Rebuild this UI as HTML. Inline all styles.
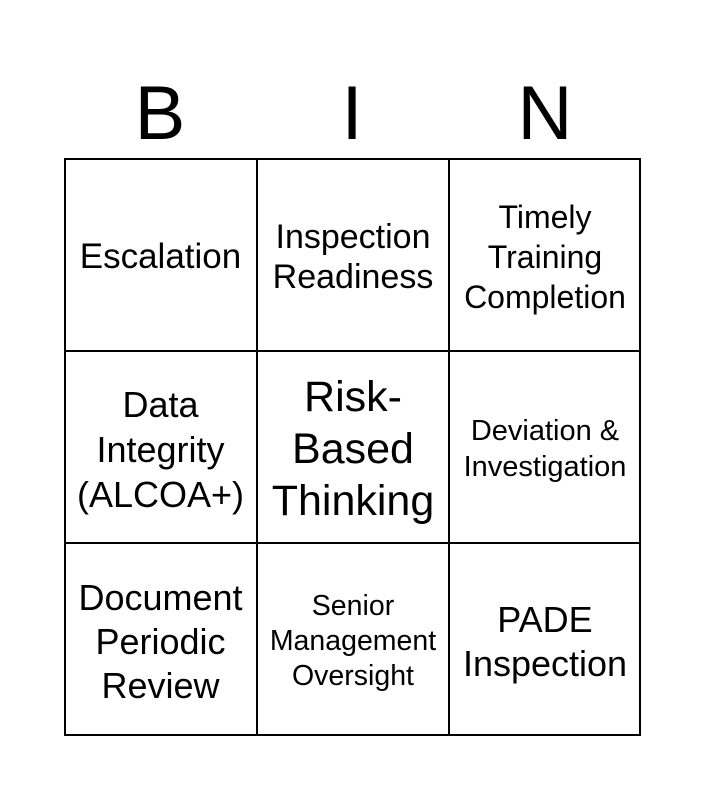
<!DOCTYPE html>
<html><head><meta charset="utf-8"><style>
html,body{margin:0;padding:0;background:#fff;}
body{width:705px;height:800px;position:relative;font-family:"Liberation Sans",Arial,sans-serif;color:#000;}
.h{position:absolute;top:69px;font-size:76px;line-height:90px;width:192px;text-align:center;}
.grid{position:absolute;left:64px;top:158px;width:577px;height:578px;border:2px solid #000;box-sizing:border-box;}
.c{position:absolute;display:flex;align-items:center;justify-content:center;text-align:center;box-sizing:border-box;padding-top:4px;}
.vl{position:absolute;top:158px;width:2px;height:578px;background:#000;}
.hl{position:absolute;left:64px;height:2px;width:577px;background:#000;}
</style></head><body>
<div class="h" style="left:64px">B</div>
<div class="h" style="left:256px">I</div>
<div class="h" style="left:449px">N</div>
<div class="grid"></div>
<div class="vl" style="left:256px"></div>
<div class="vl" style="left:448px"></div>
<div class="hl" style="top:350px"></div>
<div class="hl" style="top:542px"></div>

<div class="c" style="left:64px;top:158px;width:193px;height:193px;font-size:35px;line-height:42px;">Escalation</div>
<div class="c" style="left:257px;top:158px;width:192px;height:193px;font-size:34px;line-height:40px;">Inspection<br>Readiness</div>
<div class="c" style="left:449px;top:158px;width:192px;height:193px;font-size:32px;line-height:40px;">Timely<br>Training<br>Completion</div>

<div class="c" style="left:64px;top:351px;width:193px;height:192px;font-size:36px;line-height:45px;">Data<br>Integrity<br>(ALCOA+)</div>
<div class="c" style="left:257px;top:351px;width:192px;height:192px;font-size:43px;line-height:52px;">Risk-<br>Based<br>Thinking</div>
<div class="c" style="left:449px;top:351px;width:192px;height:192px;font-size:29px;line-height:36px;">Deviation &amp;<br>Investigation</div>

<div class="c" style="left:64px;top:543px;width:193px;height:193px;font-size:36px;line-height:44px;">Document<br>Periodic<br>Review</div>
<div class="c" style="left:257px;top:543px;width:192px;height:193px;font-size:28.5px;line-height:35px;">Senior<br>Management<br>Oversight</div>
<div class="c" style="left:449px;top:543px;width:192px;height:193px;font-size:36px;line-height:44px;">PADE<br>Inspection</div>
</body></html>
